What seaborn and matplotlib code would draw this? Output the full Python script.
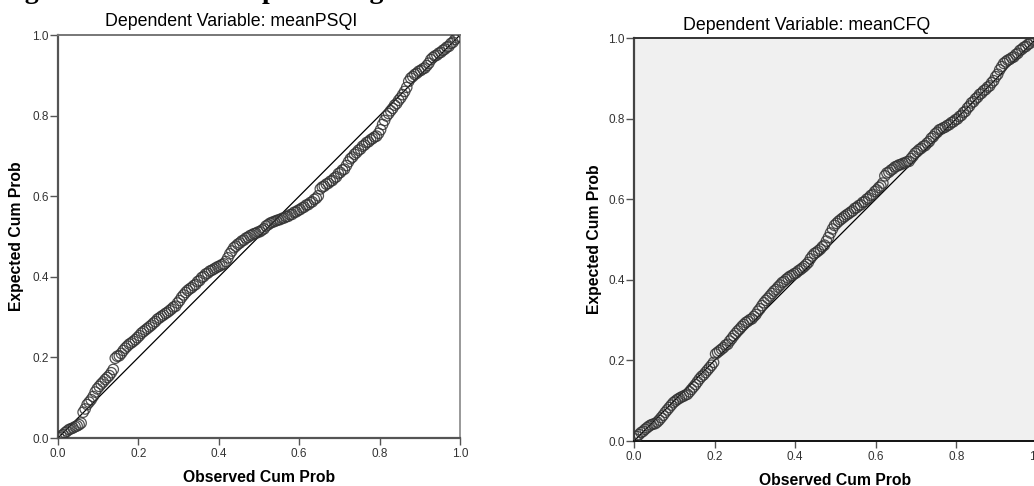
import matplotlib
matplotlib.use('Agg')
import matplotlib.pyplot as plt
import seaborn as sns
import pandas as pd

# P-P plot values
obs_cum = [0.0025, 0.0075, 0.0125, 0.0175, 0.0225, 0.0275, 0.0325, 0.0375, 0.0425, 0.0475,
           0.0525, 0.0575, 0.0625, 0.0675, 0.0725, 0.0775, 0.0825, 0.0875, 0.0925, 0.0975,
           0.1025, 0.1075, 0.1125, 0.1175, 0.1225, 0.1275, 0.1325, 0.1375, 0.1425, 0.1475,
           0.1525, 0.1575, 0.1625, 0.1675, 0.1725, 0.1775, 0.1825, 0.1875, 0.1925, 0.1975,
           0.2025, 0.2075, 0.2125, 0.2175, 0.2225, 0.2275, 0.2325, 0.2375, 0.2425, 0.2475,
           0.2525, 0.2575, 0.2625, 0.2675, 0.2725, 0.2775, 0.2825, 0.2875, 0.2925, 0.2975,
           0.3025, 0.3075, 0.3125, 0.3175, 0.3225, 0.3275, 0.3325, 0.3375, 0.3425, 0.3475,
           0.3525, 0.3575, 0.3625, 0.3675, 0.3725, 0.3775, 0.3825, 0.3875, 0.3925, 0.3975,
           0.4025, 0.4075, 0.4125, 0.4175, 0.4225, 0.4275, 0.4325, 0.4375, 0.4425, 0.4475,
           0.4525, 0.4575, 0.4625, 0.4675, 0.4725, 0.4775, 0.4825, 0.4875, 0.4925, 0.4975,
           0.5025, 0.5075, 0.5125, 0.5175, 0.5225, 0.5275, 0.5325, 0.5375, 0.5425, 0.5475,
           0.5525, 0.5575, 0.5625, 0.5675, 0.5725, 0.5775, 0.5825, 0.5875, 0.5925, 0.5975,
           0.6025, 0.6075, 0.6125, 0.6175, 0.6225, 0.6275, 0.6325, 0.6375, 0.6425, 0.6475,
           0.6525, 0.6575, 0.6625, 0.6675, 0.6725, 0.6775, 0.6825, 0.6875, 0.6925, 0.6975,
           0.7025, 0.7075, 0.7125, 0.7175, 0.7225, 0.7275, 0.7325, 0.7375, 0.7425, 0.7475,
           0.7525, 0.7575, 0.7625, 0.7675, 0.7725, 0.7775, 0.7825, 0.7875, 0.7925, 0.7975,
           0.8025, 0.8075, 0.8125, 0.8175, 0.8225, 0.8275, 0.8325, 0.8375, 0.8425, 0.8475,
           0.8525, 0.8575, 0.8625, 0.8675, 0.8725, 0.8775, 0.8825, 0.8875, 0.8925, 0.8975,
           0.9025, 0.9075, 0.9125, 0.9175, 0.9225, 0.9275, 0.9325, 0.9375, 0.9425, 0.9475,
           0.9525, 0.9575, 0.9625, 0.9675, 0.9725, 0.9775, 0.9825, 0.9875, 0.9925, 0.9975]

exp_psqi = [0.001, 0.005, 0.008, 0.013, 0.017, 0.021, 0.023, 0.025, 0.028, 0.030,
            0.033, 0.037, 0.064, 0.072, 0.083, 0.089, 0.095, 0.103, 0.114, 0.122,
            0.128, 0.134, 0.139, 0.145, 0.150, 0.155, 0.162, 0.170, 0.198, 0.203,
            0.204, 0.210, 0.217, 0.223, 0.228, 0.233, 0.236, 0.240, 0.244, 0.249,
            0.254, 0.260, 0.264, 0.268, 0.272, 0.276, 0.280, 0.285, 0.289, 0.295,
            0.298, 0.302, 0.305, 0.309, 0.312, 0.316, 0.320, 0.325, 0.327, 0.335,
            0.341, 0.349, 0.355, 0.361, 0.366, 0.370, 0.373, 0.378, 0.381, 0.388,
            0.391, 0.398, 0.401, 0.407, 0.409, 0.414, 0.416, 0.419, 0.422, 0.425,
            0.427, 0.430, 0.432, 0.438, 0.447, 0.457, 0.464, 0.472, 0.476, 0.481,
            0.484, 0.489, 0.491, 0.496, 0.498, 0.502, 0.504, 0.507, 0.508, 0.511,
            0.512, 0.516, 0.519, 0.526, 0.529, 0.533, 0.535, 0.537, 0.539, 0.541,
            0.542, 0.545, 0.546, 0.549, 0.550, 0.554, 0.555, 0.560, 0.561, 0.565,
            0.567, 0.571, 0.573, 0.578, 0.579, 0.584, 0.586, 0.592, 0.595, 0.601,
            0.618, 0.623, 0.625, 0.630, 0.632, 0.637, 0.639, 0.645, 0.648, 0.656,
            0.659, 0.665, 0.667, 0.676, 0.685, 0.693, 0.697, 0.704, 0.708, 0.714,
            0.717, 0.724, 0.727, 0.733, 0.735, 0.740, 0.743, 0.747, 0.749, 0.756,
            0.765, 0.778, 0.788, 0.799, 0.805, 0.812, 0.818, 0.826, 0.830, 0.838,
            0.844, 0.852, 0.860, 0.870, 0.885, 0.893, 0.897, 0.902, 0.905, 0.910,
            0.912, 0.916, 0.918, 0.924, 0.930, 0.939, 0.944, 0.948, 0.950, 0.955,
            0.957, 0.962, 0.965, 0.970, 0.972, 0.979, 0.982, 0.989, 0.993, 0.997]

exp_cfq = [0.005, 0.011, 0.016, 0.021, 0.024, 0.029, 0.033, 0.037, 0.040, 0.042,
           0.043, 0.047, 0.052, 0.058, 0.064, 0.071, 0.077, 0.083, 0.089, 0.095,
           0.099, 0.103, 0.106, 0.109, 0.111, 0.114, 0.116, 0.122, 0.128, 0.134,
           0.140, 0.147, 0.154, 0.160, 0.164, 0.170, 0.176, 0.182, 0.188, 0.195,
           0.216, 0.220, 0.224, 0.228, 0.232, 0.238, 0.240, 0.248, 0.254, 0.261,
           0.267, 0.273, 0.278, 0.284, 0.289, 0.294, 0.297, 0.301, 0.303, 0.309,
           0.314, 0.322, 0.328, 0.336, 0.343, 0.349, 0.354, 0.360, 0.366, 0.372,
           0.376, 0.382, 0.387, 0.393, 0.396, 0.401, 0.405, 0.409, 0.411, 0.415,
           0.417, 0.422, 0.425, 0.429, 0.433, 0.438, 0.443, 0.452, 0.459, 0.465,
           0.468, 0.472, 0.476, 0.482, 0.486, 0.496, 0.505, 0.516, 0.526, 0.535,
           0.540, 0.545, 0.549, 0.553, 0.557, 0.561, 0.564, 0.568, 0.571, 0.577,
           0.579, 0.584, 0.586, 0.592, 0.594, 0.600, 0.603, 0.609, 0.612, 0.619,
           0.623, 0.629, 0.633, 0.640, 0.658, 0.665, 0.667, 0.672, 0.675, 0.680,
           0.682, 0.685, 0.686, 0.689, 0.690, 0.693, 0.694, 0.701, 0.707, 0.714,
           0.718, 0.723, 0.726, 0.731, 0.733, 0.739, 0.743, 0.751, 0.755, 0.762,
           0.766, 0.772, 0.774, 0.777, 0.779, 0.783, 0.785, 0.790, 0.792, 0.797,
           0.799, 0.805, 0.808, 0.815, 0.818, 0.826, 0.831, 0.839, 0.842, 0.849,
           0.853, 0.860, 0.863, 0.869, 0.872, 0.878, 0.881, 0.889, 0.894, 0.904,
           0.910, 0.921, 0.929, 0.937, 0.941, 0.945, 0.947, 0.951, 0.953, 0.959,
           0.962, 0.969, 0.972, 0.977, 0.979, 0.984, 0.987, 0.993, 0.996, 0.999]

ref_line = [0.0, 1.0]
ticks = [0.0, 0.2, 0.4, 0.6, 0.8, 1.0]
tick_labels = ['0.0', '0.2', '0.4', '0.6', '0.8', '1.0']
titles = ['Dependent Variable: meanPSQI', 'Dependent Variable: meanCFQ']
caption = 'Figure 2: Normal P-P plot of regression standardized residual'

sns.set_style('white')
plt.rcParams['font.family'] = ['Liberation Sans', 'DejaVu Sans']

W, H = 1034, 486
fig = plt.figure(figsize=(W / 100, H / 100), dpi=100)

# axes boxes in pixel terms: left, top, right, bottom
boxes = [(58, 35, 460, 438), (634, 38, 1037, 441)]
faces = ['white', '#f0f0f0']
series = [exp_psqi, exp_cfq]
title_pos = [(231, 21), (807, 25)]
ylabel_x = [17, 594]
xlabel_y = [477, 480]

for i in range(2):
    l, t, r, b = boxes[i]
    ax = fig.add_axes([l / W, 1 - b / H, (r - l) / W, (b - t) / H])
    ax.set_facecolor(faces[i])
    df = pd.DataFrame({'obs': obs_cum, 'exp': series[i]})
    sns.scatterplot(data=df, x='obs', y='exp', ax=ax, s=56, zorder=3)
    pts = ax.collections[0]
    pts.set_facecolor('none')
    pts.set_edgecolor('#333333')
    pts.set_linewidth(0.9)
    pts.set_alpha(0.85)
    ax.plot(ref_line, ref_line, color='black', lw=0.9, zorder=2)

    ax.set_xlim(0, 1)
    ax.set_ylim(0, 1)
    ax.set_xticks(ticks)
    ax.set_yticks(ticks)
    ax.set_xticklabels(tick_labels)
    ax.set_yticklabels(tick_labels)
    ax.tick_params(direction='out', length=6, width=1, color='#555555',
                   labelcolor='#333333', labelsize=8.5, pad=0.5,
                   bottom=True, left=True)
    ax.tick_params(axis='x', length=5, pad=2.5)
    ax.set_xlabel('')
    ax.set_ylabel('')

    if i == 0:
        ax.spines['left'].set_color('#555555')
        ax.spines['left'].set_linewidth(1.6)
        ax.spines['bottom'].set_color('#555555')
        ax.spines['bottom'].set_linewidth(1.6)
        ax.spines['top'].set_color('#777777')
        ax.spines['top'].set_linewidth(1.4)
        ax.spines['right'].set_color('#888888')
        ax.spines['right'].set_linewidth(1.2)
    else:
        ax.spines['left'].set_color('#444444')
        ax.spines['left'].set_linewidth(1.6)
        ax.spines['bottom'].set_color('#111111')
        ax.spines['bottom'].set_linewidth(1.4)
        ax.spines['top'].set_color('#333333')
        ax.spines['top'].set_linewidth(1.4)
        ax.spines['right'].set_color('#555555')

    tx, ty = title_pos[i]
    fig.text(tx / W, 1 - ty / H, titles[i], ha='center', va='center',
             fontsize=12.8, color='black')
    fig.text(ylabel_x[i] / W, 1 - ((t + b) / 2) / H, 'Expected Cum Prob',
             rotation=90, ha='center', va='center', fontsize=11.3,
             fontweight='bold', color='black')
    fig.text(((l + r) / 2) / W, 1 - xlabel_y[i] / H, 'Observed Cum Prob',
             ha='center', va='center', fontsize=11.3, fontweight='bold',
             color='black')

# caption of the page above the crop, only its descenders show at the top edge
fig.text(0, 1 - 4 / H, caption, ha='left', va='bottom', fontsize=20,
         family='Liberation Serif', fontweight='bold', color='black')

fig.savefig('out.png', dpi=100)
